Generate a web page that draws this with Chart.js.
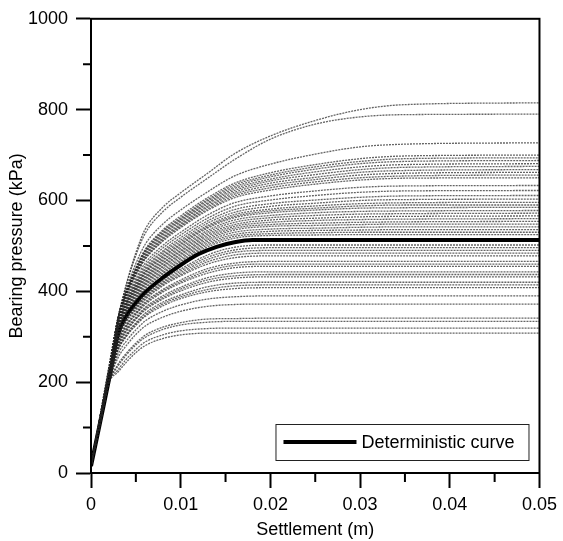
<!DOCTYPE html>
<html>
<head>
<meta charset="utf-8">
<script src="https://cdn.jsdelivr.net/npm/chart.js@4.4.1/dist/chart.umd.min.js"></script>
<style>
  html, body { margin: 0; padding: 0; background: #fff; }
  .chart-container { width: 563px; height: 541px; position: relative; }
</style>
</head>
<body>
<div class="chart-container">
  <canvas id="chart"></canvas>
</div>
<script>
// settlement (m) where the simulated curves were read
const settlement = [0, 0.001, 0.002, 0.003, 0.004, 0.005, 0.006, 0.008, 0.010, 0.013, 0.016, 0.020, 0.025, 0.030, 0.035, 0.050];

// simulated bearing pressure curves (kPa), one row per realisation
const simulatedCurves = [
  [15, 125, 235, 340, 420, 485, 535, 585, 617, 660, 703, 742, 776, 800, 811, 815],
  [15, 124, 233, 341, 418, 479, 526, 575, 607, 649, 690, 735, 768, 784, 789, 790],
  [15, 122, 229, 341, 409, 461, 502, 548, 579, 619, 654, 680, 702, 718, 724, 727],
  [15, 121, 227, 340, 405, 452, 491, 535, 566, 606, 638, 661, 679, 692, 698, 700],
  [15, 120, 226, 339, 403, 450, 488, 532, 562, 602, 634, 656, 674, 686, 692, 694],
  [15, 120, 226, 338, 402, 449, 486, 529, 559, 599, 630, 652, 669, 681, 686, 688],
  [15, 120, 225, 338, 401, 446, 483, 526, 556, 595, 626, 647, 663, 674, 679, 681],
  [15, 120, 225, 338, 400, 444, 480, 523, 553, 592, 622, 643, 657, 668, 673, 675],
  [15, 119, 224, 337, 398, 442, 477, 519, 549, 588, 618, 638, 651, 662, 666, 668],
  [15, 119, 224, 336, 397, 440, 474, 516, 546, 585, 614, 633, 646, 656, 660, 662],
  [15, 119, 223, 335, 395, 437, 471, 513, 543, 581, 610, 628, 641, 650, 654, 656],
  [15, 119, 223, 334, 393, 435, 469, 510, 540, 578, 606, 623, 636, 645, 649, 650],
  [15, 118, 222, 332, 389, 428, 461, 501, 530, 568, 595, 610, 621, 629, 632, 633],
  [15, 117, 221, 330, 386, 423, 455, 495, 524, 561, 587, 601, 611, 618, 621, 622],
  [15, 117, 220, 328, 383, 419, 450, 489, 518, 555, 580, 593, 601, 607, 610, 611],
  [15, 117, 219, 326, 380, 416, 446, 485, 513, 550, 574, 587, 594, 600, 602, 603],
  [15, 117, 219, 325, 378, 413, 442, 481, 509, 545, 569, 581, 588, 593, 595, 596],
  [15, 116, 218, 324, 376, 410, 440, 477, 505, 542, 565, 577, 583, 588, 590, 590],
  [15, 116, 218, 324, 375, 408, 437, 474, 502, 539, 562, 573, 579, 583, 584, 585],
  [15, 116, 217, 322, 373, 405, 433, 470, 498, 534, 557, 567, 573, 576, 577, 578],
  [15, 116, 217, 320, 371, 403, 430, 467, 494, 530, 552, 562, 567, 570, 571, 572],
  [15, 115, 216, 319, 368, 400, 427, 463, 490, 526, 547, 557, 561, 564, 565, 566],
  [15, 115, 216, 318, 366, 397, 424, 460, 487, 522, 543, 552, 556, 558, 559, 560],
  [15, 114, 215, 316, 364, 394, 420, 456, 483, 518, 539, 547, 550, 552, 553, 554],
  [15, 114, 214, 315, 362, 392, 417, 453, 480, 514, 535, 543, 545, 547, 548, 548],
  [15, 114, 213, 313, 360, 389, 414, 449, 476, 510, 530, 537, 539, 541, 542, 542],
  [15, 114, 213, 312, 358, 386, 411, 445, 472, 506, 525, 532, 534, 535, 536, 536],
  [15, 113, 212, 310, 356, 383, 407, 441, 468, 502, 521, 527, 529, 530, 530, 530],
  [15, 113, 212, 309, 354, 381, 404, 438, 465, 498, 517, 523, 524, 525, 525, 525],
  [15, 110, 205, 302, 344, 370, 393, 425, 449, 480, 497, 502, 502, 502, 502, 502],
  [15, 110, 205, 300, 342, 367, 390, 421, 445, 475, 491, 496, 496, 496, 496, 496],
  [15, 110, 205, 298, 340, 365, 387, 418, 441, 470, 486, 490, 490, 490, 490, 490],
  [15, 109, 204, 296, 337, 362, 384, 415, 437, 465, 480, 484, 484, 484, 484, 484],
  [15, 109, 204, 295, 335, 359, 381, 412, 434, 460, 474, 478, 478, 478, 478, 478],
  [15, 109, 204, 291, 329, 354, 376, 404, 425, 450, 462, 466, 466, 466, 466, 466],
  [15, 109, 203, 289, 326, 351, 373, 401, 421, 445, 457, 460, 460, 460, 460, 460],
  [15, 109, 203, 287, 324, 349, 370, 398, 418, 440, 452, 455, 455, 455, 455, 455],
  [15, 109, 203, 283, 319, 343, 364, 390, 409, 430, 440, 443, 443, 443, 443, 443],
  [15, 108, 202, 280, 316, 340, 361, 386, 405, 425, 434, 437, 437, 437, 437, 437],
  [15, 108, 202, 278, 313, 338, 358, 383, 401, 420, 429, 432, 432, 432, 432, 432],
  [15, 108, 202, 274, 307, 331, 351, 376, 392, 410, 418, 420, 420, 420, 420, 420],
  [15, 108, 201, 271, 304, 328, 347, 372, 388, 404, 412, 414, 414, 414, 414, 414],
  [15, 108, 201, 269, 302, 325, 344, 368, 384, 399, 406, 408, 408, 408, 408, 408],
  [15, 108, 201, 261, 292, 315, 334, 356, 370, 383, 388, 390, 390, 390, 390, 390],
  [15, 107, 200, 253, 282, 305, 323, 343, 356, 367, 371, 372, 372, 372, 372, 372],
  [15, 107, 200, 239, 265, 286, 303, 321, 331, 339, 340, 341, 341, 341, 341, 341],
  [15, 107, 200, 235, 261, 282, 298, 316, 326, 332, 334, 334, 334, 334, 334, 334],
  [15, 107, 200, 227, 252, 272, 288, 304, 313, 318, 319, 319, 319, 319, 319, 319],
  [15, 106, 198, 222, 245, 265, 280, 296, 304, 308, 308, 308, 308, 308, 308, 308]
];

// deterministic curve
const detSettlement = [0, 0.001, 0.002, 0.003, 0.004, 0.005, 0.006, 0.008, 0.010, 0.012, 0.014, 0.016, 0.018, 0.050];
const detPressure = [15, 110, 205, 305, 348, 375, 397, 430, 458, 482, 498, 508, 513, 513];

const xTickLabels = ["0", "0.01", "0.02", "0.03", "0.04", "0.05"];
const yTickLabels = ["0", "200", "400", "600", "800", "1000"];
const xMinorTicks = [0.005, 0.015, 0.025, 0.035, 0.045];
const yMinorTicks = [100, 300, 500, 700, 900];

const FONT = "'Liberation Sans', Arial, sans-serif";

const toPoints = (xs, ys) => xs.map((x, i) => ({ x: x, y: ys[i] }));

const datasets = simulatedCurves.map(curve => ({
  label: "simulated",
  data: toPoints(settlement, curve),
  borderColor: "rgba(35,35,35,0.7)",
  borderWidth: 1.3,
  borderDash: [2, 1],
  pointRadius: 0,
  cubicInterpolationMode: "monotone",
  fill: false
}));

datasets.push({
  label: "Deterministic curve",
  data: toPoints(detSettlement, detPressure),
  borderColor: "#000",
  borderWidth: 4,
  pointRadius: 0,
  cubicInterpolationMode: "monotone",
  fill: false
});

// frame, minor ticks and boxed legend inside the plot
const extras = {
  id: "extras",
  afterDraw(chart) {
    const { ctx, chartArea: a, scales } = chart;
    ctx.save();
    ctx.strokeStyle = "#000";
    ctx.lineWidth = 2;
    ctx.strokeRect(a.left, a.top, a.right - a.left, a.bottom - a.top);

    ctx.beginPath();
    xMinorTicks.forEach(v => {
      const px = scales.x.getPixelForValue(v);
      ctx.moveTo(px, a.bottom);
      ctx.lineTo(px, a.bottom + 9);
    });
    yMinorTicks.forEach(v => {
      const py = scales.y.getPixelForValue(v);
      ctx.moveTo(a.left, py);
      ctx.lineTo(a.left - 8, py);
    });
    ctx.stroke();

    // legend
    const bx = a.right - 264, by = a.bottom - 49, bw = 253, bh = 36;
    ctx.fillStyle = "#fff";
    ctx.fillRect(bx, by, bw, bh);
    ctx.lineWidth = 1;
    ctx.strokeStyle = "#222";
    ctx.strokeRect(bx + 0.5, by + 0.5, bw, bh);
    ctx.lineWidth = 4;
    ctx.strokeStyle = "#000";
    ctx.beginPath();
    ctx.moveTo(bx + 8, by + 18);
    ctx.lineTo(bx + 81, by + 18);
    ctx.stroke();
    ctx.fillStyle = "#000";
    ctx.font = "18px " + FONT;
    ctx.textBaseline = "middle";
    ctx.fillText("Deterministic curve", bx + 86, by + 19);
    ctx.restore();
  }
};

new Chart(document.getElementById("chart"), {
  type: "line",
  data: { datasets: datasets },
  options: {
    responsive: true,
    maintainAspectRatio: false,
    animation: false,
    devicePixelRatio: 1,
    layout: { padding: { top: 15, right: 22, left: 0, bottom: 0 } },
    plugins: {
      legend: { display: false },
      tooltip: { enabled: false }
    },
    scales: {
      x: {
        type: "linear",
        min: 0,
        max: 0.05,
        afterFit: scale => { scale.height = 68; },
        border: { display: true, color: "#000", width: 2 },
        grid: { drawOnChartArea: false, tickLength: 15, tickWidth: 2, tickColor: "#000" },
        ticks: {
          stepSize: 0.01,
          color: "#000",
          padding: 6,
          maxRotation: 0,
          font: { family: FONT, size: 18 },
          callback: (v, i) => xTickLabels[i]
        },
        title: {
          display: true,
          text: "Settlement (m)",
          color: "#000",
          padding: 0,
          font: { family: FONT, size: 18 }
        }
      },
      y: {
        type: "linear",
        min: 0,
        max: 1000,
        afterFit: scale => { scale.width = 91; },
        border: { display: true, color: "#000", width: 2 },
        grid: { drawOnChartArea: false, tickLength: 15, tickWidth: 2, tickColor: "#000" },
        ticks: {
          stepSize: 200,
          color: "#000",
          padding: 8,
          font: { family: FONT, size: 18 },
          callback: (v, i) => yTickLabels[i]
        },
        title: {
          display: true,
          text: "Bearing pressure (kPa)",
          color: "#000",
          padding: { top: 6, bottom: 0 },
          font: { family: FONT, size: 18 }
        }
      }
    }
  },
  plugins: [extras]
});
</script>
</body>
</html>
